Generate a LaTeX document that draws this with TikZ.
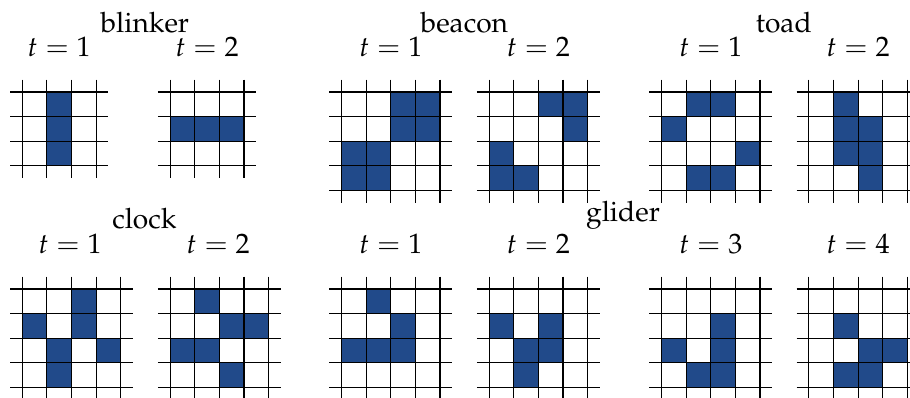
\documentclass[tikz,border=0pt]{standalone}
\usepackage[T1]{fontenc}
\usepackage{mathpazo}
\definecolor{cellblue}{RGB}{33,74,138}
\tikzset{
  gridline/.style={black, line width=0.4pt},
  livecell/.style={fill=cellblue},
  lbl/.style={anchor=base, inner sep=0pt},
}
\newcommand\lifegrid[4]{%
  \begin{scope}[shift={(#1,#2)}]
    \foreach \c/\r in {#4} { \fill[livecell] (\c,-\r) rectangle ++(1,-1); }
    \foreach \i in {0,...,#3} {
      \draw[gridline] (-0.5,-\i) -- (#3+0.5,-\i);
      \draw[gridline] (\i,0.5) -- (\i,-#3-0.5);
    }
  \end{scope}}
\begin{document}
\begin{tikzpicture}[x=8.75pt,y=8.75pt]
\useasboundingbox (0,0) rectangle (37,-16.18);
% top row
\lifegrid{0.907}{-3.74}{3}{1/0,1/1,1/2}
\lifegrid{6.923}{-3.74}{3}{0/1,1/1,2/1}
\lifegrid{13.89}{-3.74}{4}{2/0,3/0,2/1,3/1,0/2,1/2,0/3,1/3}
\lifegrid{19.89}{-3.74}{4}{2/0,3/0,3/1,0/2,0/3,1/3}
\lifegrid{26.90}{-3.74}{4}{1/0,2/0,0/1,3/2,1/3,2/3}
\lifegrid{32.89}{-3.74}{4}{1/0,1/1,2/1,1/2,2/2,2/3}
% bottom row
\lifegrid{0.907}{-11.75}{4}{2/0,0/1,2/1,1/2,3/2,1/3}
\lifegrid{6.923}{-11.75}{4}{1/0,2/1,3/1,0/2,1/2,2/3}
\lifegrid{13.89}{-11.75}{4}{1/0,2/1,0/2,1/2,2/2}
\lifegrid{19.89}{-11.75}{4}{0/1,2/1,1/2,2/2,1/3}
\lifegrid{26.90}{-11.75}{4}{2/1,0/2,2/2,1/3,2/3}
\lifegrid{32.89}{-11.75}{4}{1/1,2/2,3/2,1/3,2/3}
% titles
\node[lbl] (blinker) at (5.89,-1.313) {blinker};
\node[lbl] (beacon) at (18.88,-1.313) {beacon};
\node[lbl] (toad) at (31.87,-1.313) {toad};
\node[lbl] (clock) at (5.87,-9.27) {clock};
\node[lbl] (glider) at (25.33,-9.01) {glider};
% time labels top
\node[lbl] (bl1) at (2.407,-2.297) {$t=1$};
\node[lbl] (bl2) at (8.42,-2.297) {$t=2$};
\node[lbl] (be1) at (15.89,-2.297) {$t=1$};
\node[lbl] (be2) at (21.89,-2.297) {$t=2$};
\node[lbl] (to1) at (28.9,-2.297) {$t=1$};
\node[lbl] (to2) at (34.89,-2.297) {$t=2$};
% time labels bottom
\node[lbl] (cl1) at (2.85,-10.30) {$t=1$};
\node[lbl] (cl2) at (8.87,-10.30) {$t=2$};
\node[lbl] (gl1) at (15.89,-10.30) {$t=1$};
\node[lbl] (gl2) at (21.89,-10.30) {$t=2$};
\node[lbl] (gl3) at (28.9,-10.30) {$t=3$};
\node[lbl] (gl4) at (34.89,-10.30) {$t=4$};
\end{tikzpicture}
\end{document}
